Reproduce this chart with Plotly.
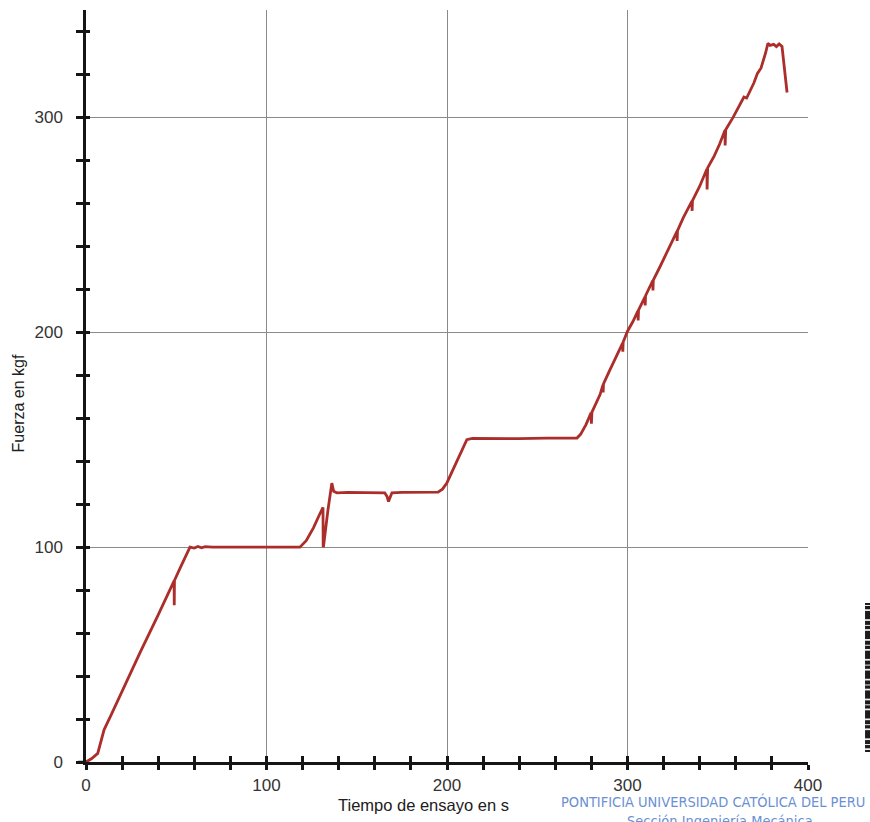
import plotly.graph_objects as go

# Ensayo de tracción: tiempo (s) vs. fuerza (kgf)
tiempo_s = [
    0, 3, 6.5, 8.5, 10, 14, 20, 30, 40, 46, 48.8, 48.9, 49.0, 52, 57.6,
    60, 62, 64, 66, 70, 80, 90, 100, 110, 118.5,
    122, 126, 129, 131.3, 131.4, 131.6, 134, 136.2, 137.2, 139, 145, 155, 163,
    165.5, 166.8, 167.6, 168.4, 169.5, 175, 185, 195,
    197.5, 200, 203, 206, 209, 211, 214, 225, 240, 255, 265, 272,
    274, 277, 279.8, 280.0, 280.3, 282, 284.8, 286.4, 286.5, 286.7, 290, 294,
    297.3, 297.4, 297.6, 300,
    303, 305.8, 305.9, 306.1, 309.7, 309.8, 310.0, 314, 314.1, 314.3, 318,
    322, 327.4, 327.5, 327.7, 331, 335.7, 335.8, 336.0, 340, 344, 344.1, 344.4,
    348, 351, 354, 354.1, 354.4, 358.5,
    362, 364.5, 366, 370, 372, 374, 376.5, 377.8, 379, 381, 382.5, 384, 385.6,
    386.5, 388.4,
]
fuerza_kgf = [
    0, 1.5, 4, 10, 15, 22, 33, 51, 68.5, 79.5, 84.3, 73, 84.5, 90, 100,
    99.6, 100.3, 99.7, 100.2, 100, 100, 100, 100.2, 100, 100,
    103, 109, 114.5, 118.5, 100, 100.5, 117, 129.8, 126, 125.3, 125.5, 125.5, 125.3,
    125.3, 123.5, 121.2, 123, 125.3, 125.5, 125.4, 125.6,
    127, 130, 135.5, 141, 147, 150, 150.6, 150.5, 150.5, 150.7, 150.6, 150.8,
    152.5, 157, 162.5, 157.5, 162.8, 166, 171, 175.5, 172, 176, 182, 189,
    195, 191, 195.5, 200.5,
    205, 210, 205.5, 210.3, 216.5, 212.5, 217, 224, 219.5, 224.3, 230.5,
    237.5, 247, 242.5, 247.3, 253.5, 261, 256.5, 261.3, 268, 276, 266.5, 276.5,
    282, 287.5, 294, 287, 294.3, 300,
    306, 309.5, 309, 316, 320.5, 323, 330, 334.5, 333.5, 334, 333, 334.2, 333,
    325, 311.6,
]

x_rango = [0, 400]
y_rango = [0, 350]
x_ticks_mayores = 100
x_ticks_menores = 20
y_ticks_mayores = 100
y_ticks_menores = 20

eje_x_titulo = "Tiempo de ensayo en s"
eje_y_titulo = "Fuerza en kgf"
sello_linea1 = "PONTIFICIA UNIVERSIDAD CATÓLICA DEL PERU"
sello_linea2 = "Sección Ingeniería Mecánica"

FUENTE = "Liberation Sans, Arial, sans-serif"
TXT = "#333333"
EJE = "#151515"

fig = go.Figure()

fig.add_trace(go.Scatter(
    x=tiempo_s, y=fuerza_kgf, mode="lines",
    line=dict(color="#ab2e2b", width=2.8),
    showlegend=False, hoverinfo="x+y",
))
# empty trace to host the second (inner-tick) axis pair
fig.add_trace(go.Scatter(x=[None], y=[None], xaxis="x2", yaxis="y2",
                         showlegend=False, hoverinfo="skip"))

base_x = dict(range=x_rango, dtick=x_ticks_mayores, tick0=0,
              showline=True, linecolor=EJE, linewidth=2.5,
              tickcolor=EJE, tickwidth=2.5, zeroline=False)
base_y = dict(range=y_rango, dtick=y_ticks_mayores, tick0=0,
              showline=True, linecolor=EJE, linewidth=2.5,
              tickcolor=EJE, tickwidth=2.5, zeroline=False)

fig.update_layout(
    width=870, height=822,
    margin=dict(l=86, r=62, t=10, b=60),
    paper_bgcolor="white", plot_bgcolor="white",
    font=dict(family=FUENTE, color=TXT, size=16),
    xaxis=dict(**base_x, ticks="outside", ticklen=5,
               showgrid=True, gridcolor="#8a8a8a", gridwidth=1.2,
               tickfont=dict(size=17, color=TXT), ticklabelstandoff=1,
               minor=dict(dtick=x_ticks_menores, tick0=0, ticks="outside",
                          ticklen=5, tickcolor=EJE, tickwidth=2.5, showgrid=False)),
    yaxis=dict(**base_y, ticks="outside", ticklen=7,
               showgrid=True, gridcolor="#8a8a8a", gridwidth=1.2,
               tickfont=dict(size=17, color=TXT), ticklabelstandoff=10,
               minor=dict(dtick=y_ticks_menores, tick0=0, ticks="outside",
                          ticklen=7, tickcolor=EJE, tickwidth=2.5, showgrid=False)),
    xaxis2=dict(**base_x, overlaying="x", anchor="y2", ticks="inside", ticklen=6,
                showgrid=False, showticklabels=False,
                minor=dict(dtick=x_ticks_menores, tick0=0, ticks="inside",
                           ticklen=6, tickcolor=EJE, tickwidth=2.5, showgrid=False)),
    yaxis2=dict(**base_y, overlaying="y", anchor="x2", ticks="inside", ticklen=4,
                showgrid=False, showticklabels=False,
                minor=dict(dtick=y_ticks_menores, tick0=0, ticks="inside",
                           ticklen=4, tickcolor=EJE, tickwidth=2.5, showgrid=False)),
)

# short extension of the time axis to the left of the origin
fig.add_shape(type="line", xref="paper", yref="paper",
              x0=-0.011, x1=0, y0=0, y1=0,
              line=dict(color=EJE, width=2.5))

# axis titles
fig.add_annotation(text=eje_x_titulo, xref="paper", yref="paper",
                   x=0.468, y=-0.0572, xanchor="center", yanchor="middle",
                   showarrow=False, font=dict(size=16.5, color="#202020"))
fig.add_annotation(text=eje_y_titulo, xref="paper", yref="paper",
                   x=-0.094, y=0.477, xanchor="center", yanchor="middle",
                   textangle=-90, showarrow=False,
                   font=dict(size=16, color="#202020"))

# institutional stamp
SELLO = "Liberation Sans Narrow, DejaVu Sans Condensed, Arial Narrow, sans-serif"
fig.add_annotation(text=sello_linea1, xref="paper", yref="paper",
                   x=0.868, y=-0.0525, xanchor="center", yanchor="middle",
                   showarrow=False,
                   font=dict(size=14.5, color="#6b8fd4", family=SELLO))
fig.add_annotation(text=sello_linea2, xref="paper", yref="paper",
                   x=0.878, y=-0.0645, xanchor="center", yanchor="top",
                   showarrow=False,
                   font=dict(size=14.5, color="#6b8fd4", family=SELLO))

# barcode strip at the right margin
y_ini, y_fin = 0.0133, 0.2114
fig.add_shape(type="rect", xref="paper", yref="paper",
              x0=1.079, x1=1.09, y0=y_ini, y1=y_fin,
              fillcolor="#1c1c1c", line=dict(width=0))
n = 30
paso = (y_fin - y_ini) / n
for i in range(n):
    if i % 4 == 3:
        continue
    hueco = paso * (0.35 if i % 2 == 0 else 0.2)
    y0 = y_ini + i * paso + paso * 0.4
    fig.add_shape(type="rect", xref="paper", yref="paper",
                  x0=1.079, x1=1.09, y0=y0, y1=y0 + hueco,
                  fillcolor="#f2f2f2", line=dict(width=0))

fig.write_html("out.html")
